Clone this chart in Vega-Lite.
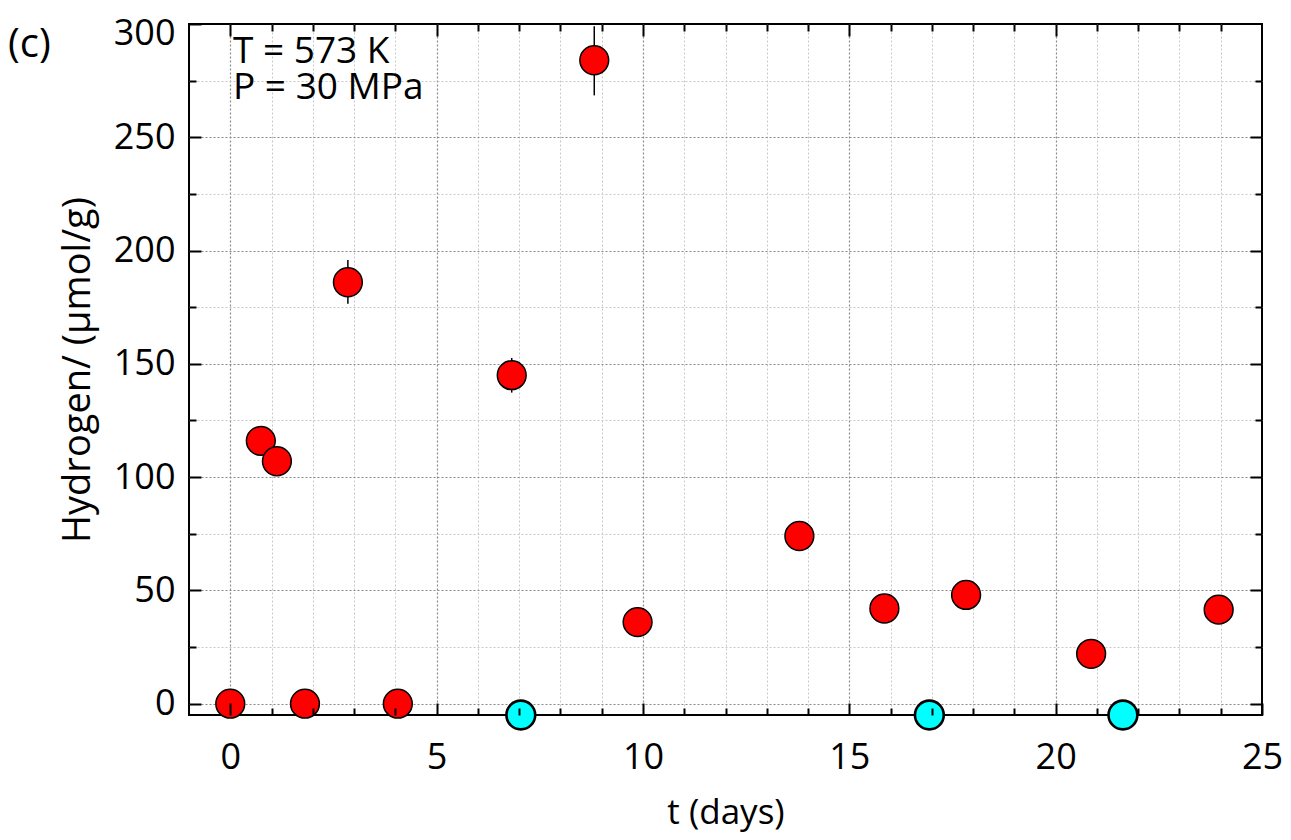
{
  "$schema": "https://vega.github.io/schema/vega-lite/v6.json",
  "width": 1073,
  "height": 691,
  "autosize": "none",
  "padding": {"left": 189, "top": 24, "right": 29, "bottom": 125},
  "background": "white",
  "config": {
    "view": {"stroke": "black", "strokeWidth": 2},
    "font": "Open Sans",
    "axis": {"domain": false, "labelFont": "Open Sans", "titleFont": "Open Sans", "labelColor": "black", "titleColor": "black", "titleFontWeight": "normal"}
  },
  "title": {"text": "(c)", "anchor": "start", "frame": "group", "dx": -181, "dy": 50, "offset": 0, "baseline": "top", "fontSize": 40, "fontWeight": "normal", "font": "Open Sans", "color": "black"},
  "data": {
    "values": [
      {"t": 0, "h": 0, "s": "red"},
      {"t": 0.74, "h": 116, "s": "red"},
      {"t": 1.13, "h": 107, "s": "red"},
      {"t": 1.81, "h": 0, "s": "red"},
      {"t": 2.85, "h": 186, "lo": 176.5, "hi": 195.8, "s": "red"},
      {"t": 4.06, "h": 0, "s": "red"},
      {"t": 6.82, "h": 145, "lo": 137.3, "hi": 152.6, "s": "red"},
      {"t": 8.82, "h": 284, "lo": 268.5, "hi": 299, "s": "red"},
      {"t": 9.87, "h": 36, "s": "red"},
      {"t": 13.79, "h": 74, "s": "red"},
      {"t": 15.85, "h": 42, "s": "red"},
      {"t": 17.83, "h": 48, "s": "red"},
      {"t": 20.86, "h": 22, "s": "red"},
      {"t": 23.95, "h": 41.5, "s": "red"},
      {"t": 7.04, "h": -5, "s": "cyan"},
      {"t": 16.94, "h": -5, "s": "cyan"},
      {"t": 21.63, "h": -5, "s": "cyan"}
    ]
  },
  "resolve": {"axis": {"x": "independent", "y": "independent"}},
  "layer": [
    {
      "mark": {"type": "point", "opacity": 0},
      "encoding": {
        "x": {"field": "t", "type": "quantitative", "scale": {"domain": [-1, 25], "nice": false, "zero": false},
          "axis": {"orient": "bottom", "values": [1,2,3,4,6,7,8,9,11,12,13,14,16,17,18,19,21,22,23,24], "grid": true, "gridColor": "#c8c8c8", "gridDash": [2, 2], "gridWidth": 1, "ticks": false, "labels": false, "title": null, "zindex": 0}},
        "y": {"field": "h", "type": "quantitative", "scale": {"domain": [-5, 300], "nice": false, "zero": false},
          "axis": {"orient": "left", "values": [25, 75, 125, 175, 225, 275], "grid": true, "gridColor": "#c8c8c8", "gridDash": [2, 2], "gridWidth": 1, "ticks": false, "labels": false, "title": null, "zindex": 0}}
      }
    },
    {
      "mark": {"type": "point", "opacity": 0},
      "encoding": {
        "x": {"field": "t", "type": "quantitative",
          "axis": {"orient": "bottom", "values": [0, 5, 10, 15, 20], "grid": true, "gridColor": "#8a8a8a", "gridDash": [2, 2], "gridWidth": 1.2, "ticks": false, "labels": false, "title": null, "zindex": 0}},
        "y": {"field": "h", "type": "quantitative",
          "axis": {"orient": "left", "values": [0, 50, 100, 150, 200, 250], "grid": true, "gridColor": "#8a8a8a", "gridDash": [2, 2], "gridWidth": 1.2, "ticks": false, "labels": false, "title": null, "zindex": 0}}
      }
    },
    {
      "mark": {"type": "rule", "stroke": "black", "strokeWidth": 1.5},
      "encoding": {
        "x": {"field": "t", "type": "quantitative", "axis": null},
        "y": {"field": "lo", "type": "quantitative", "axis": null},
        "y2": {"field": "hi"}
      }
    },
    {
      "mark": {"type": "point", "opacity": 0},
      "encoding": {
        "x": {"field": "t", "type": "quantitative",
          "axis": {"orient": "bottom", "values": [0, 5, 10, 15, 20, 25], "grid": false, "tickSize": -12, "tickWidth": 2, "tickColor": "black", "labels": true, "labelFontSize": 36, "labelPadding": 37, "labelFlush": false, "title": "t (days)", "titleFontSize": 35, "titlePadding": 20, "zindex": 1}},
        "y": {"field": "h", "type": "quantitative",
          "axis": {"orient": "left", "values": [0, 50, 100, 150, 200, 250, 300], "grid": false, "tickSize": -12, "tickWidth": 2, "tickColor": "black", "labels": true, "labelFontSize": 36, "labelPadding": 26, "labelFlush": true, "labelFlushOffset": 8, "title": "Hydrogen/ (µmol/g)", "titleFontSize": 38, "titlePadding": 16, "zindex": 1}}
      }
    },
    {
      "mark": {"type": "point", "opacity": 0},
      "encoding": {
        "x": {"field": "t", "type": "quantitative",
          "axis": {"orient": "bottom", "values": [1,2,3,4,6,7,8,9,11,12,13,14,16,17,18,19,21,22,23,24], "grid": false, "tickSize": -7, "tickWidth": 2, "tickColor": "black", "labels": false, "title": null, "zindex": 1}},
        "y": {"field": "h", "type": "quantitative",
          "axis": {"orient": "left", "values": [25, 75, 125, 175, 225, 275], "grid": false, "tickSize": -7, "tickWidth": 2, "tickColor": "black", "labels": false, "title": null, "zindex": 1}}
      }
    },
    {
      "mark": {"type": "point", "opacity": 0},
      "encoding": {
        "x": {"field": "t", "type": "quantitative",
          "axis": {"orient": "top", "values": [0, 5, 10, 15, 20], "grid": false, "tickSize": -12, "tickWidth": 2, "tickColor": "black", "labels": false, "title": null, "zindex": 1}},
        "y": {"field": "h", "type": "quantitative",
          "axis": {"orient": "right", "values": [0, 50, 100, 150, 200, 250], "grid": false, "tickSize": -12, "tickWidth": 2, "tickColor": "black", "labels": false, "title": null, "zindex": 1}}
      }
    },
    {
      "mark": {"type": "point", "opacity": 0},
      "encoding": {
        "x": {"field": "t", "type": "quantitative",
          "axis": {"orient": "top", "values": [1,2,3,4,6,7,8,9,11,12,13,14,16,17,18,19,21,22,23,24], "grid": false, "tickSize": -7, "tickWidth": 2, "tickColor": "black", "labels": false, "title": null, "zindex": 1}},
        "y": {"field": "h", "type": "quantitative",
          "axis": {"orient": "right", "values": [25, 75, 125, 175, 225, 275], "grid": false, "tickSize": -7, "tickWidth": 2, "tickColor": "black", "labels": false, "title": null, "zindex": 1}}
      }
    },
    {
      "mark": {"type": "point", "filled": true, "size": 830, "opacity": 1, "clip": false},
      "encoding": {
        "x": {"field": "t", "type": "quantitative", "axis": null},
        "y": {"field": "h", "type": "quantitative", "axis": null},
        "fill": {"field": "s", "type": "nominal", "scale": {"domain": ["red", "cyan"], "range": ["#ff0000", "#00ffff"]}, "legend": null},
        "stroke": {"value": "black"},
        "strokeWidth": {"field": "s", "type": "nominal", "scale": {"domain": ["red", "cyan"], "range": [1.5, 2.6]}, "legend": null}
      }
    },
    {
      "mark": {"type": "text", "align": "left", "baseline": "top", "fontSize": 37, "font": "Open Sans", "color": "black", "lineHeight": 36, "dx": 44, "dy": 10},
      "data": {"values": [{"tx": -1, "ty": 300, "label": ["T = 573 K", "P = 30 MPa"]}]},
      "encoding": {
        "x": {"field": "tx", "type": "quantitative", "axis": null},
        "y": {"field": "ty", "type": "quantitative", "axis": null},
        "text": {"field": "label"}
      }
    }
  ]
}
